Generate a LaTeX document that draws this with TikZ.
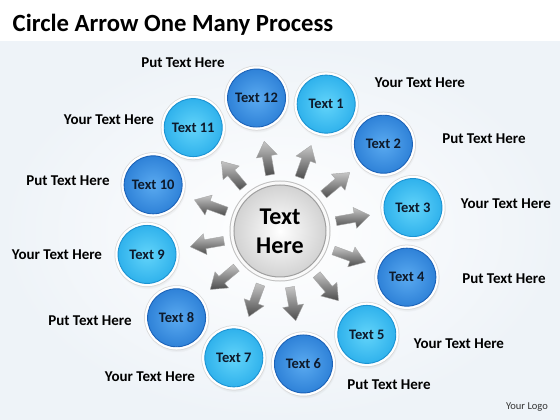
\documentclass[tikz,border=0pt]{standalone}
\usepackage{fontspec}
\setmainfont{Carlito}
\usetikzlibrary{shadows}

\definecolor{liteblue}{HTML}{62D4FA}
\definecolor{litemid}{HTML}{30B2EC}
\definecolor{liteedge}{HTML}{1B93D3}
\definecolor{deepblue}{HTML}{5AAAF0}
\definecolor{deepmid}{HTML}{2F82D8}
\definecolor{deepedge}{HTML}{1B62B8}
\definecolor{inktext}{HTML}{0E1A2B}
\definecolor{backdrop}{HTML}{EEF3F8}

\begin{document}
\begin{tikzpicture}[x=1pt, y=1pt,
    every node/.style = {font=\bfseries, text=inktext},
    ball/.style = {circle, minimum size=58pt, inner sep=0pt,
      font=\bfseries\fontsize{14.5}{16}\selectfont,
      circular drop shadow={shadow xshift=.5pt, shadow yshift=-2pt,
        shadow scale=1.12, opacity=.2},
      preaction={draw=gray!30, line width=7pt},
      preaction={draw=white, line width=5.5pt},
      line width=.9pt},
    lite/.style = {ball, draw=liteedge, inner color=liteblue, outer color=litemid},
    deep/.style = {ball, draw=deepedge, inner color=deepblue, outer color=deepmid},
    hubball/.style = {circle, minimum size=92pt, inner sep=0pt, align=center,
      font=\bfseries\fontsize{24}{29}\selectfont, text=black,
      preaction={draw=gray!50, line width=9pt},
      preaction={draw=gray!5, line width=7pt},
      draw=gray!75, line width=1pt, inner color=white, outer color=gray!35},
    spoke/.style = {draw=gray!70, line width=.4pt, top color=gray!45, bottom color=black!70},
    note/.style = {font=\bfseries\fontsize{15}{17}\selectfont, text=black}]

  % canvas: hub sits at the origin
  \useasboundingbox (-280,-189) rectangle (280,231);
  \fill[white] (-280,-189) rectangle (280,231);
  \shade[inner color=white, outer color=backdrop] (-280,-189) rectangle (280,189);

  \node[anchor=base west, inner sep=0pt, text=black,
    font=\bfseries\fontsize{24.7}{28}\selectfont] (title) at (-267.5,199)
    {Circle Arrow One Many Process};

  % arrows out of the hub
  \foreach \a in {10,40,...,340}
    \path[spoke, rotate=\a] (57,-4.5) -- (76,-4.5) -- (76,-10.5) -- (91,0)
      -- (76,10.5) -- (76,4.5) -- (57,4.5) -- cycle;

  \node[hubball] (hub) at (0,0) {Text\\Here};

  % ring of steps
  \foreach \k/\kind in {1/lite,2/deep,3/lite,4/deep,5/lite,6/deep,
                        7/lite,8/deep,9/lite,10/deep,11/lite,12/deep}
    \node[\kind] (c\k) at ({100-30*\k}:135) {Text \k};

  % side notes
  \foreach \k/\x/\y/\w in {1/140/148/Your, 2/204/92/Put, 3/226/27/Your,
      4/224/-48/Put, 5/179/-113/Your, 6/109/-154/Put, 7/-130/-146/Your,
      8/-190/-90/Put, 9/-223/-24/Your, 10/-212/50/Put, 11/-171/111/Your,
      12/-97/168/Put}
    \node[note] (l\k) at (\x,\y) {\w{} Text Here};

  \node[font=\fontsize{10.5}{12}\selectfont, text=black!80] (logo) at (247,-176) {Your Logo};
\end{tikzpicture}
\end{document}
